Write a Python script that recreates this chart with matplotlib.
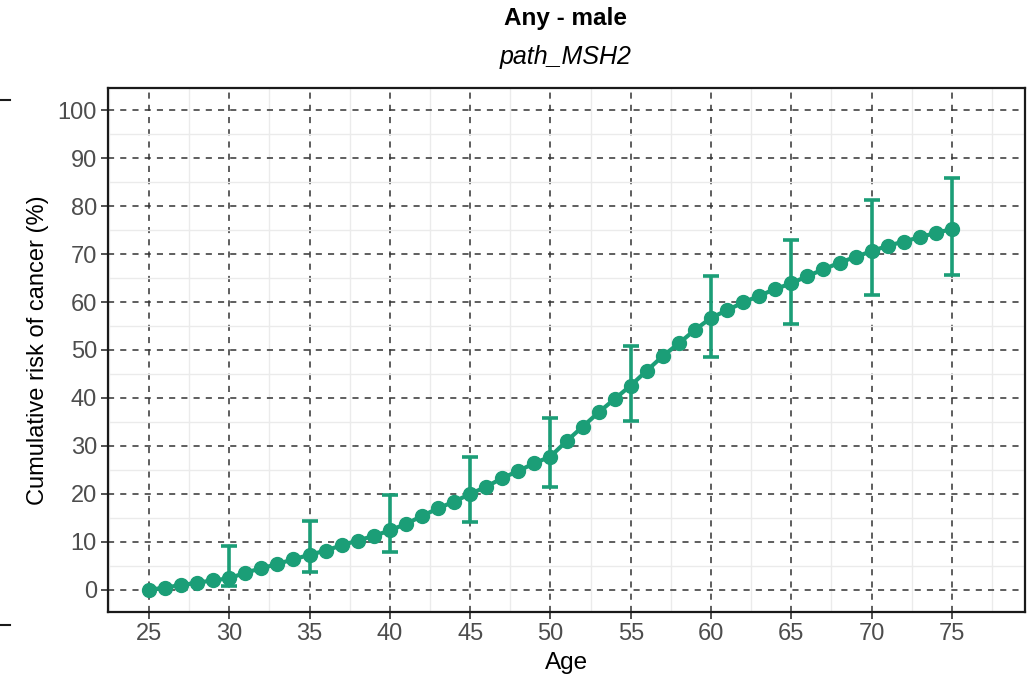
import numpy as np
import matplotlib.pyplot as plt
from matplotlib.lines import Line2D
from matplotlib.ticker import MultipleLocator

plt.rcParams['font.family'] = ['Liberation Sans', 'DejaVu Sans']

age = list(range(25, 76))
risk = [0.0, 0.5, 1.0, 1.5, 2.0, 2.4, 3.6, 4.5, 5.4, 6.4,
        7.3, 8.2, 9.3, 10.3, 11.25, 12.4, 13.75, 15.4, 17.0, 18.4,
        20.0, 21.5, 23.3, 24.8, 26.4, 27.8, 31.0, 34.0, 37.0, 39.8,
        42.6, 45.7, 48.75, 51.4, 54.2, 56.7, 58.3, 59.9, 61.3, 62.7,
        63.9, 65.4, 66.8, 68.2, 69.4, 70.6, 71.7, 72.6, 73.5, 74.4,
        75.2]

ci_age = [30, 35, 40, 45, 50, 55, 60, 65, 70, 75]
ci_low = [0.9, 3.7, 7.8, 14.2, 21.4, 35.1, 48.6, 55.4, 61.5, 65.6]
ci_high = [9.2, 14.4, 19.8, 27.6, 35.8, 50.9, 65.4, 72.9, 81.25, 85.8]

green = '#1B9E77'

fig = plt.figure(figsize=(10.28, 6.78), dpi=100)
ax = fig.add_axes([108 / 1028, 1 - 612 / 678, 917 / 1028, 524 / 678])

ci_mid = [risk[age.index(a)] for a in ci_age]
yerr = [np.array(ci_mid) - np.array(ci_low), np.array(ci_high) - np.array(ci_mid)]
ax.errorbar(ci_age, ci_mid, yerr=yerr, fmt='none', ecolor=green,
            elinewidth=2.6, capsize=6, capthick=2.6, zorder=3)
ax.plot(age, risk, color=green, lw=3, marker='o', ms=10, zorder=4)

ax.set_xlim(22.45, 79.55)
ax.set_ylim(-4.6, 104.6)
ax.xaxis.set_major_locator(MultipleLocator(5))
ax.xaxis.set_minor_locator(MultipleLocator(2.5))
ax.yaxis.set_major_locator(MultipleLocator(10))
ax.yaxis.set_minor_locator(MultipleLocator(5))

ax.grid(which='minor', color='#ebebeb', lw=1.0, ls='-', zorder=0)
ax.grid(which='major', color='#333333', lw=1.1, ls=(0, (4, 4)), zorder=1)
ax.set_axisbelow(True)

ax.tick_params(which='major', direction='out', length=5, width=1.2,
               colors='#333333', labelcolor='#4d4d4d', labelsize=17, pad=3)
ax.tick_params(which='minor', length=0)
for s in ax.spines.values():
    s.set_linewidth(1.6)
    s.set_color('#1a1a1a')

ax.set_xlabel('Age', fontsize=17.5, labelpad=5)
ax.set_ylabel('Cumulative risk of cancer (%)', fontsize=17, labelpad=6)

fig.text(566 / 1028, 1 - 18 / 678, 'Any - male', ha='center', va='center',
         fontsize=17.5, fontweight='bold')
fig.text(566 / 1028, 1 - 57 / 678, 'path_MSH2', ha='center', va='center',
         fontsize=18, style='italic')

# stray marks at the left edge
for yp in (100, 625):
    fig.add_artist(Line2D([0, 10 / 1028], [1 - yp / 678] * 2,
                          color='#1a1a1a', lw=1.5, transform=fig.transFigure))

fig.savefig('out.png', dpi=100)
